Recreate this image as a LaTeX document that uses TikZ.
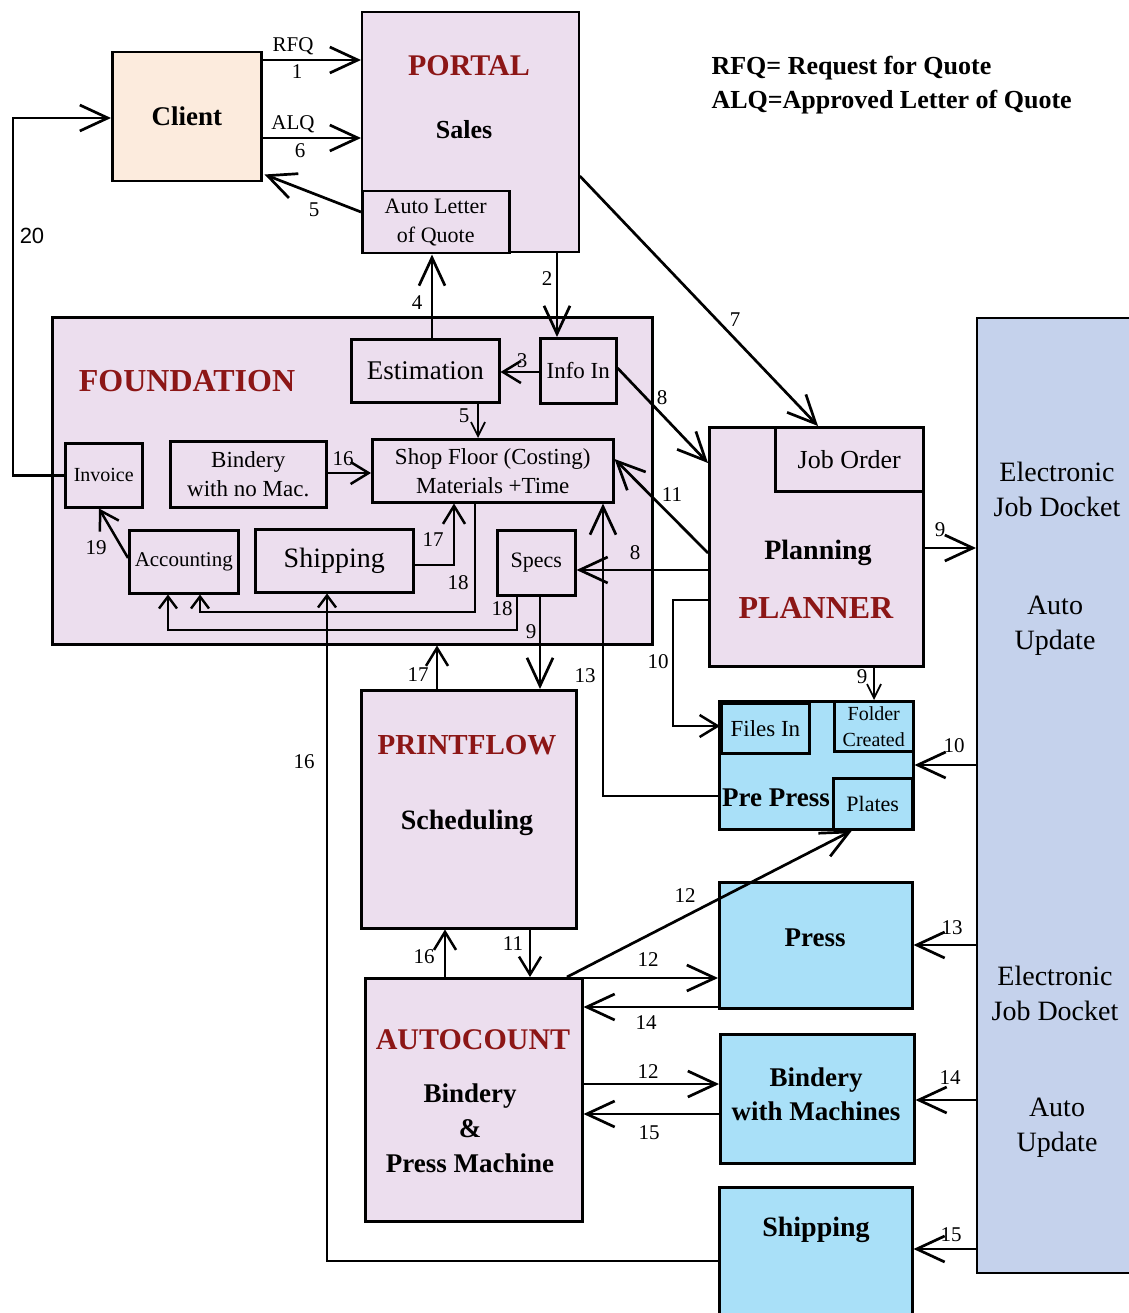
\documentclass[tikz,border=0pt]{standalone}
\usepackage{fontspec}
\setmainfont{Liberation Serif}
\newfontfamily\lsans{Liberation Sans}
\usetikzlibrary{arrows.meta}
\definecolor{lav}{RGB}{236,222,238}
\definecolor{peach}{RGB}{252,235,221}
\definecolor{cyanb}{RGB}{169,224,248}
\definecolor{ejdblue}{RGB}{197,210,236}
\definecolor{dred}{RGB}{140,22,22}
\newcommand\fs[2]{\fontsize{#1}{#2}\selectfont}
\begin{document}
\begin{tikzpicture}[x=1pt,y=-1pt,
 box/.style={draw, line width=2.5pt, inner sep=0pt, anchor=north west, align=center},
 wh/.style 2 args={minimum width=#1pt, minimum height=#2pt},
 arr/.style={line width=2.7pt, -{Straight Barb[length=28pt,width=26pt]}},
 marr/.style={line width=2.5pt, -{Straight Barb[length=18pt,width=22pt]}},
 mtarr/.style={line width=2.4pt, -{Straight Barb[length=12pt,width=18pt]}},
 sarr/.style={line width=1.7pt, -{Straight Barb[length=14pt,width=14pt]}},
 lab/.style={font=\fs{21}{25}, inner sep=0pt},
 title/.style={font=\bfseries\fs{#1}{#1}, text=dred},
 btxt/.style={font=\bfseries\fs{#1}{34}, align=center},
 rtxt/.style={font=\fs{28}{35}, align=center}
]
\fill[white] (0,0) rectangle (1128,1313);
\useasboundingbox (0,0) rectangle (1128,1313);

% ---------- top ----------
\node[box, fill=peach, wh={149}{129}, font=\bfseries\fs{27}{32}] (client) at (111,51) {Client};
\node[box, fill=lav, wh={217}{240}, line width=1.8pt] (portal) at (361,11) {};
\node[box, fill=lav, wh={147}{62}, font=\fs{22}{29}] (letter) at (361,190) {Auto Letter\\of Quote};
\node[title=30] (portalT) at (469,66) {PORTAL};
\node[btxt=26] (sales) at (464,130) {Sales};
\node[anchor=west, font=\bfseries\fs{26}{34}, align=left] (legend) at (708,85) {RFQ= Request for Quote\\ALQ=Approved Letter of Quote};

% ---------- foundation ----------
\node[box, fill=lav, wh={600}{327}] (found) at (51,316) {};
\node[title=32] (foundT) at (187,381) {FOUNDATION};
\node[box, wh={148}{63}, font=\fs{27}{32}] (estim) at (350,338) {Estimation};
\node[box, wh={76}{65}, font=\fs{23}{28}] (infoin) at (539,337) {Info In};
\node[box, wh={241}{63}, font=\fs{23}{29}] (shop) at (371,438) {Shop Floor (Costing)\\Materials +Time};
\node[box, wh={156}{66}, font=\fs{23}{29}] (bnm) at (169,440) {Bindery\\with no Mac.};
\node[box, wh={77}{64}, font=\fs{20}{24}] (invoice) at (64,442) {Invoice};
\node[box, wh={109}{63}, font=\fs{21}{25}] (acc) at (128,529) {Accounting};
\node[box, wh={158}{63}, font=\fs{28}{33}] (shipf) at (254,528) {Shipping};
\node[box, wh={78}{65}, font=\fs{22}{26}] (specs) at (496,529) {Specs};

% ---------- planner ----------
\node[box, fill=lav, wh={214}{239}] (planner) at (708,426) {};
\node[box, wh={148}{64}, font=\fs{26}{31}] (job) at (774,426) {Job Order};
\node[btxt=28] (planning) at (818,553) {Planning};
\node[title=32] (plannerT) at (816,608) {PLANNER};

% ---------- electronic job docket ----------
\node[box, fill=ejdblue, wh={175}{955}, line width=1.8pt] (ejd) at (976,317) {};
\node[rtxt] (ejd1) at (1057,489) {Electronic\\Job Docket};
\node[rtxt] (au1) at (1055,626) {Auto\\Update};
\node[rtxt] (ejd2) at (1055,993) {Electronic\\Job Docket};
\node[rtxt] (au2) at (1057,1128) {Auto\\Update};

% ---------- pre press ----------
\node[box, fill=cyanb, wh={194}{128}] (pre) at (718,700) {};
\node[box, wh={88}{50}, font=\fs{23}{28}, line width=2.8pt] (files) at (720,702) {Files In};
\node[box, wh={79}{50}, font=\fs{20}{26}] (folder) at (833,700) {Folder\\Created};
\node[box, wh={79}{51}, font=\fs{22}{26}] (plates) at (832,777) {Plates};
\node[btxt=27] (preT) at (776,798) {Pre Press};

% ---------- printflow ----------
\node[box, fill=lav, wh={215}{238}] (pf) at (360,689) {};
\node[title=29] (pfT) at (467,745) {PRINTFLOW};
\node[btxt=28] (sched) at (467,823) {Scheduling};

% ---------- autocount ----------
\node[box, fill=lav, wh={217}{243}] (ac) at (364,977) {};
\node[title=30] (acT) at (473,1040) {AUTOCOUNT};
\node[font=\bfseries\fs{27}{35}, align=center] (acS) at (470,1128) {Bindery\\\&\\Press Machine};

% ---------- machines ----------
\node[box, fill=cyanb, wh={193}{126}] (press) at (718,881) {};
\node[btxt=27] (pressT) at (815,938) {Press};
\node[box, fill=cyanb, wh={194}{129}] (bm) at (719,1033) {};
\node[btxt=27] (bmT) at (816,1094) {Bindery\\with Machines};
\node[box, fill=cyanb, wh={193}{140}] (shipb) at (718,1186) {};
\node[btxt=28] (shipbT) at (816,1230) {Shipping};

% ---------- connectors ----------
\draw[arr] (client.east |- 0,60) -- (portal.west |- 0,60);
\node[lab] at (293,46) {RFQ};
\node[lab] at (297,72) {1};
\draw[arr] (client.east |- 0,138) -- (portal.west |- 0,138);
\node[lab] at (293,124) {ALQ};
\node[lab] at (300,151) {6};
\draw[arr] (letter.west |- 0,212) -- ([shift={(2,-8)}]client.south east);
\node[lab] at (314,210) {5};
\draw[arr] (invoice.west) -- (13,0 |- invoice.west) -- (13,118) -- (client.west |- 0,118);
\node[lab, font=\lsans\fs{22}{26}] at (32,236) {20};
\draw[arr] (557,0 |- portal.south) -- (557,0 |- infoin.north);
\node[lab] at (547,279) {2};
\draw[arr] (432,0 |- estim.north) -- (432,0 |- letter.south);
\node[lab] at (417,303) {4};
\draw[arr] (portal.east |- 0,176) -- (818,0 |- job.north);
\node[lab] at (735,320) {7};
\draw[marr] (infoin.west |- 0,372) -- (estim.east |- 0,372);
\node[lab] at (522,361) {3};
\draw[sarr] (478,0 |- estim.south) -- (478,0 |- shop.north);
\node[lab] at (464,416) {5};
\draw[marr] (bnm.east |- 0,473) -- (shop.west |- 0,473);
\node[lab] at (343,459) {16};
\draw[marr] (acc.west |- 0,558) -- (99,0 |- invoice.south);
\node[lab] at (96,548) {19};
\draw[marr] (shipf.east |- 0,565) -| (454,0 |- shop.south);
\node[lab] at (433,540) {17};
\draw[mtarr] (475,0 |- shop.south) |- (200,612) -- (200,0 |- acc.south);
\node[lab] at (458,583) {18};
\draw[mtarr] (517,0 |- specs.south) |- (168,630) -- (168,0 |- acc.south);
\node[lab] at (502,609) {18};
\draw[arr] (540,0 |- specs.south) -- (540,0 |- pf.north);
\node[lab] at (531,632) {9};
\draw[arr] (planner.west |- 0,570) -- (specs.east |- 0,570);
\node[lab] at (635,553) {8};
\draw[arr] (pre.west |- 0,796) -| (603,0 |- shop.south);
\node[lab] at (585,676) {13};
\draw[mtarr] (shipb.west |- 0,1261) -| (327,0 |- shipf.south);
\node[lab] at (304,762) {16};
\draw[arr] (planner.west |- 0,553) -- (shop.east |- 0,459);
\node[lab] at (672,495) {11};
\draw[arr] (infoin.east |- 0,368) -- (planner.west |- 0,463);
\node[lab] at (662,398) {8};
\draw[marr] (planner.west |- 0,600) -- (673,600) |- (files.west |- 0,726);
\node[lab] at (658,662) {10};
\draw[arr] (planner.east |- 0,548) -- (ejd.west |- 0,548);
\node[lab] at (940,530) {9};
\draw[sarr] (874,0 |- planner.south) -- (874,0 |- folder.north);
\node[lab] at (862,677) {9};
\draw[arr] (ejd.west |- 0,765) -- (pre.east |- 0,765);
\node[lab] at (954,746) {10};
\draw[marr] (437,0 |- pf.north) -- (437,0 |- found.south);
\node[lab] at (418,675) {17};
\draw[marr] (445,0 |- ac.north) -- (445,0 |- pf.south);
\node[lab] at (424,957) {16};
\draw[marr] (530,0 |- pf.south) -- (530,0 |- ac.north);
\node[lab] at (513,944) {11};
\draw[arr] (567,0 |- ac.north) -- (852,0 |- plates.south);
\node[lab] at (685,896) {12};
\draw[arr] (ac.east |- 0,978) -- (press.west |- 0,978);
\node[lab] at (648,960) {12};
\draw[arr] (press.west |- 0,1007) -- (ac.east |- 0,1007);
\node[lab] at (646,1023) {14};
\draw[arr] (ac.east |- 0,1084) -- (bm.west |- 0,1084);
\node[lab] at (648,1072) {12};
\draw[arr] (bm.west |- 0,1114) -- (ac.east |- 0,1114);
\node[lab] at (649,1133) {15};
\draw[arr] (ejd.west |- 0,945) -- (press.east |- 0,945);
\node[lab] at (952,928) {13};
\draw[arr] (ejd.west |- 0,1100) -- (bm.east |- 0,1100);
\node[lab] at (950,1078) {14};
\draw[arr] (ejd.west |- 0,1249) -- (shipb.east |- 0,1249);
\node[lab] at (951,1235) {15};
\end{tikzpicture}
\end{document}
